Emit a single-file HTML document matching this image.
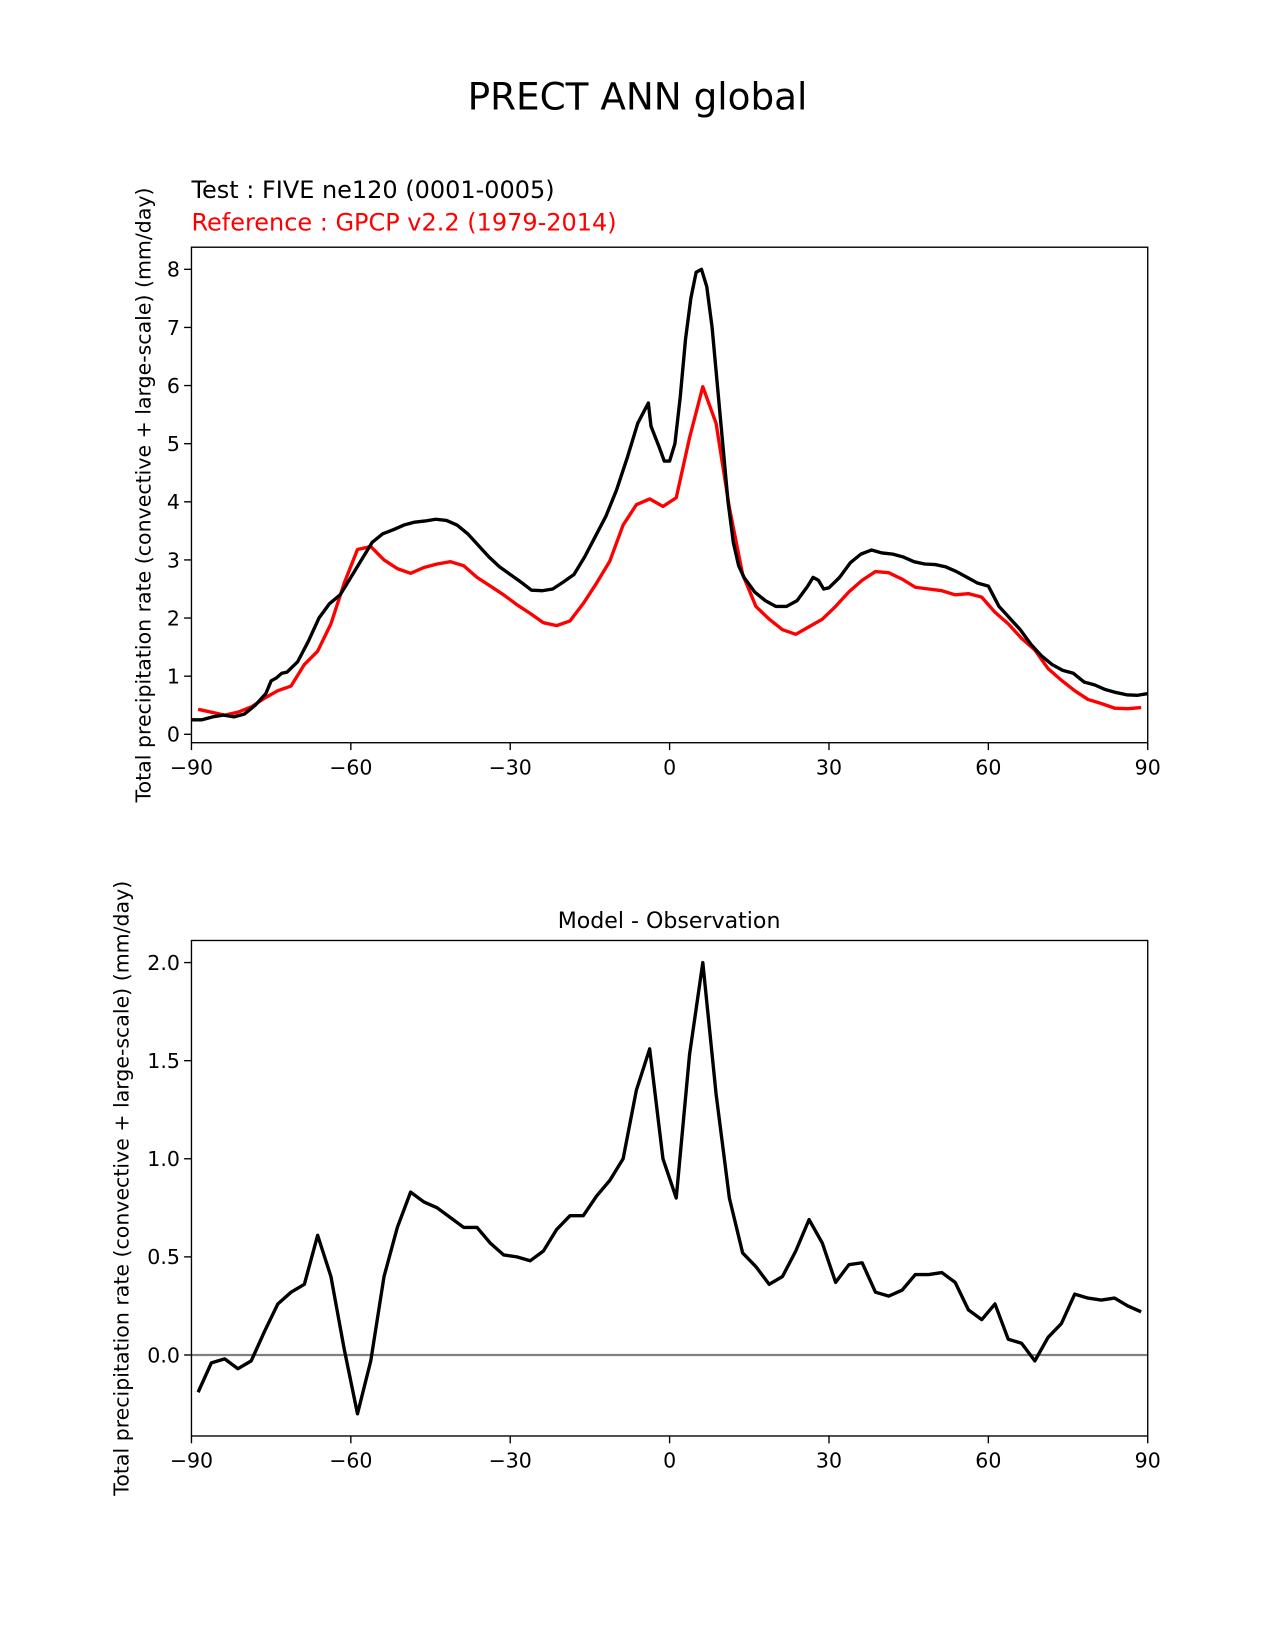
<!DOCTYPE html>
<html><head><meta charset="utf-8"><style>
body{margin:0;background:#fff;}
svg{display:block;font-family:"DejaVu Sans","Liberation Sans",sans-serif;}
</style></head><body>
<svg width="1275" height="1650" viewBox="0 0 1275 1650">
<g id="chart" transform="scale(1.052)">
<text x="606" y="104" font-size="35.5" text-anchor="middle">PRECT ANN global</text>
<text x="182" y="188" font-size="22.8">Test : FIVE ne120 (0001-0005)</text>
<text x="182" y="219" font-size="22.8" fill="red">Reference : GPCP v2.2 (1979-2014)</text>
<text x="636" y="882" font-size="21" text-anchor="middle">Model - Observation</text>
</g>
</svg>
<script>
const xTicks=[-90,-60,-30,0,30,60,90];
const xTickLabels=["\u221290","\u221260","\u221230","0","30","60","90"];
const topYTicks=[0,1,2,3,4,5,6,7,8];
const botYTicks=[0,0.5,1.0,1.5,2.0];
const botYTickLabels=["0.0","0.5","1.0","1.5","2.0"];
const gridLat=[];for(let i=0;i<72;i++)gridLat.push(-88.75+2.5*i);
const refValues=[0.43,0.38,0.33,0.38,0.47,0.62,0.75,0.83,1.2,1.43,1.9,2.6,3.18,3.23,3.0,2.85,2.77,2.87,2.93,2.97,2.9,2.7,2.55,2.4,2.23,2.08,1.92,1.87,1.95,2.25,2.6,2.98,3.6,3.95,4.05,3.92,4.07,5.1,5.98,5.35,3.9,2.75,2.2,1.98,1.8,1.72,1.85,1.98,2.2,2.45,2.65,2.8,2.78,2.67,2.53,2.5,2.47,2.4,2.42,2.36,2.1,1.9,1.65,1.45,1.13,0.93,0.75,0.6,0.53,0.45,0.44,0.46];
const testLat=[-90,-88,-86,-84,-82,-80,-78,-76,-75,-74,-73,-72,-70,-68,-66,-64,-62,-60,-58,-56,-54,-52,-50,-48,-46,-44,-42,-40,-38,-36,-34,-32,-30,-28,-26,-24,-22,-20,-18,-16,-14,-12,-10,-8,-6,-4,-3.5,-2,-1,0,1,2,3,4,5,6,7,8,9,10,11,12,13,14,16,18,20,22,24,26,27,28,29,30,32,34,36,38,40,42,44,46,48,50,52,54,56,58,60,62,64,66,68,70,72,74,76,78,80,82,84,86,88,90];
const testValues=[0.25,0.25,0.3,0.33,0.3,0.35,0.5,0.7,0.92,0.97,1.05,1.07,1.25,1.6,2.0,2.25,2.4,2.7,3.0,3.3,3.45,3.52,3.6,3.65,3.67,3.7,3.68,3.6,3.45,3.25,3.05,2.88,2.75,2.62,2.48,2.47,2.5,2.62,2.75,3.05,3.4,3.75,4.2,4.75,5.35,5.7,5.3,4.95,4.7,4.7,5.0,5.8,6.8,7.5,7.95,8.0,7.7,7.0,6.0,5.0,4.0,3.3,2.9,2.7,2.45,2.3,2.2,2.2,2.3,2.55,2.7,2.65,2.5,2.52,2.7,2.95,3.1,3.17,3.12,3.1,3.05,2.97,2.93,2.92,2.88,2.8,2.7,2.6,2.55,2.2,2.0,1.8,1.55,1.35,1.2,1.1,1.05,0.9,0.85,0.77,0.72,0.68,0.67,0.7];
const diffValues=[-0.19,-0.04,-0.02,-0.07,-0.03,0.12,0.26,0.32,0.36,0.61,0.40,0.03,-0.30,-0.03,0.40,0.65,0.83,0.78,0.75,0.70,0.65,0.65,0.57,0.51,0.50,0.48,0.53,0.64,0.71,0.71,0.81,0.89,1.00,1.35,1.56,1.00,0.80,1.53,2.00,1.33,0.80,0.52,0.45,0.36,0.40,0.53,0.69,0.57,0.37,0.46,0.47,0.32,0.30,0.33,0.41,0.41,0.42,0.37,0.23,0.18,0.26,0.08,0.06,-0.03,0.09,0.16,0.31,0.29,0.28,0.29,0.25,0.22];

const svg=document.getElementById('chart');const NS='http://www.w3.org/2000/svg';
function mk(t,a,txt){const e=document.createElementNS(NS,t);for(const k in a)e.setAttribute(k,a[k]);if(txt!==undefined)e.textContent=txt;svg.appendChild(e);return e;}
const X0=182,X1=1091;
const xs=v=>X0+(v+90)/180*(X1-X0);
const yTop=v=>698-v*55.25;
const yBot=v=>1288-v*186.5;
function lineD(xa,ya,fy){return xa.map((x,i)=>(i?'L':'M')+xs(x).toFixed(2)+','+fy(ya[i]).toFixed(2)).join('');}

function panel(y0,y1,fy,yt,ytl,name,ylx){
  let e;
  for(let i=0;i<xTicks.length;i++){
    e=mk('line',{x1:xs(xTicks[i]),x2:xs(xTicks[i]),y1:y1,y2:y1+7,stroke:'#000','stroke-width':1.3});
    
    e=mk('text',{x:xs(xTicks[i]),y:y1+30,'font-size':19.5,'text-anchor':'middle'},xTickLabels[i]);
    
  }
  for(let i=0;i<yt.length;i++){
    const y=fy(yt[i]);
    e=mk('line',{x1:X0-7,x2:X0,y1:y,y2:y,stroke:'#000','stroke-width':1.3});
    
    e=mk('text',{x:X0-11,y:y+7,'font-size':19.5,'text-anchor':'end'},ytl[i]);
    
  }
  const cy=(y0+y1)/2;
  e=mk('text',{x:ylx,y:cy,'font-size':19.5,'text-anchor':'middle',transform:'rotate(-90 '+ylx+' '+cy+')'},'Total precipitation rate (convective + large-scale) (mm/day)');
  
}
panel(235,706,yTop,topYTicks,topYTicks.map(String),'top',143);
panel(894,1365,yBot,botYTicks,botYTickLabels,'bottom',122);

let p=mk('path',{d:lineD(gridLat,refValues,yTop),fill:'none',stroke:'red','stroke-width':3.2,'stroke-linejoin':'round'});

p=mk('path',{d:lineD(testLat,testValues,yTop),fill:'none',stroke:'#000','stroke-width':3.2,'stroke-linejoin':'round'});

p=mk('line',{x1:X0,x2:X1,y1:yBot(0),y2:yBot(0),stroke:'#808080','stroke-width':2.2});

p=mk('path',{d:lineD(gridLat,diffValues,yBot),fill:'none',stroke:'#000','stroke-width':3.2,'stroke-linejoin':'round'});


p=mk('rect',{x:X0,y:235,width:X1-X0,height:471,fill:'none',stroke:'#000','stroke-width':1.3});

p=mk('rect',{x:X0,y:894,width:X1-X0,height:471,fill:'none',stroke:'#000','stroke-width':1.3});

</script>
</body></html>
